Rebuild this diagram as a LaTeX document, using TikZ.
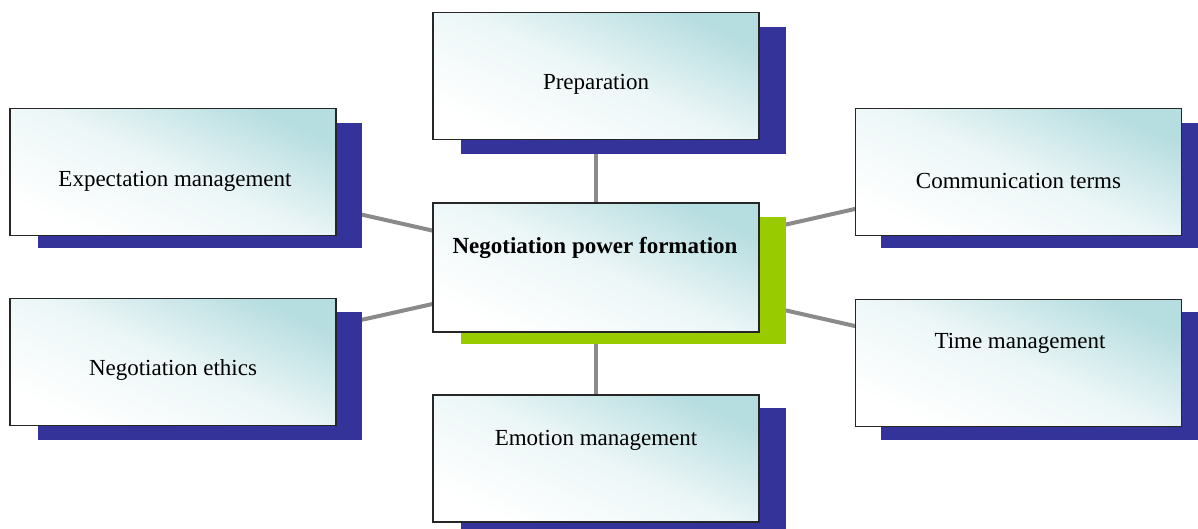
\documentclass[tikz,border=0pt]{standalone}
\usepackage{fontspec}
\setmainfont{Liberation Serif}
\usetikzlibrary{backgrounds}
\definecolor{boxcyan}{HTML}{B6DDE0}
\definecolor{navy}{HTML}{333399}
\definecolor{lime}{HTML}{99CC00}
\definecolor{linegray}{HTML}{8A8A8A}
\begin{document}
\begin{tikzpicture}[x=1pt,y=-1pt,
  box/.style={draw=black!85, line width=1.3pt, minimum width=326pt, minimum height=127pt,
    inner sep=0pt, top color=boxcyan, bottom color=white, middle color=boxcyan!25, shading angle=-25},
  txt/.style={font=\fontsize{23}{28}\selectfont, inner sep=0pt},
  conn/.style={draw=linegray, line width=4pt}]
\useasboundingbox (0,0) rectangle (1198,529);
% shadows
\fill[navy] (461,27) rectangle (786,154);
\fill[navy] (38,123) rectangle (362,248);
\fill[navy] (38,312) rectangle (362,440);
\fill[navy] (881,123) rectangle (1198,248);
\fill[navy] (881,312) rectangle (1198,440);
\fill[navy] (461,408) rectangle (786,529);
\fill[lime] (461,217) rectangle (786,344);
% boxes
\node[box] (prep) at (596,76) {};
\node[box] (expe) at (173,172) {};
\node[box] (ethi) at (173,362) {};
\node[box] (comm) at (1018.5,172) {};
\node[box] (time) at (1018.5,363) {};
\node[box] (emot) at (596,458.5) {};
\node[box, minimum height=129pt] (core) at (596,267.5) {};
% labels
\node[txt] (tprep) at (596,84) {Preparation};
\node[txt] (texpe) at (175,181) {Expectation management};
\node[txt] (tethi) at (173,370) {Negotiation ethics};
\node[txt] (tcomm) at (1018.5,181) {Communication terms};
\node[txt] (ttime) at (1020,343) {Time management};
\node[txt] (temot) at (596,440) {Emotion management};
\node[txt, font=\fontsize{23}{28}\selectfont\bfseries] (tcore) at (595,248) {Negotiation power formation};
% connectors (behind everything)
\begin{scope}[on background layer]
\draw[conn] (prep.center) -- (core.center);
\draw[conn] (emot.center) -- (core.center);
\draw[conn] (expe.center) -- (core.center);
\draw[conn] (ethi.center) -- (core.center);
\draw[conn] (comm.center) -- (core.center);
\draw[conn] (time.center) -- (core.center);
\end{scope}
\end{tikzpicture}
\end{document}
